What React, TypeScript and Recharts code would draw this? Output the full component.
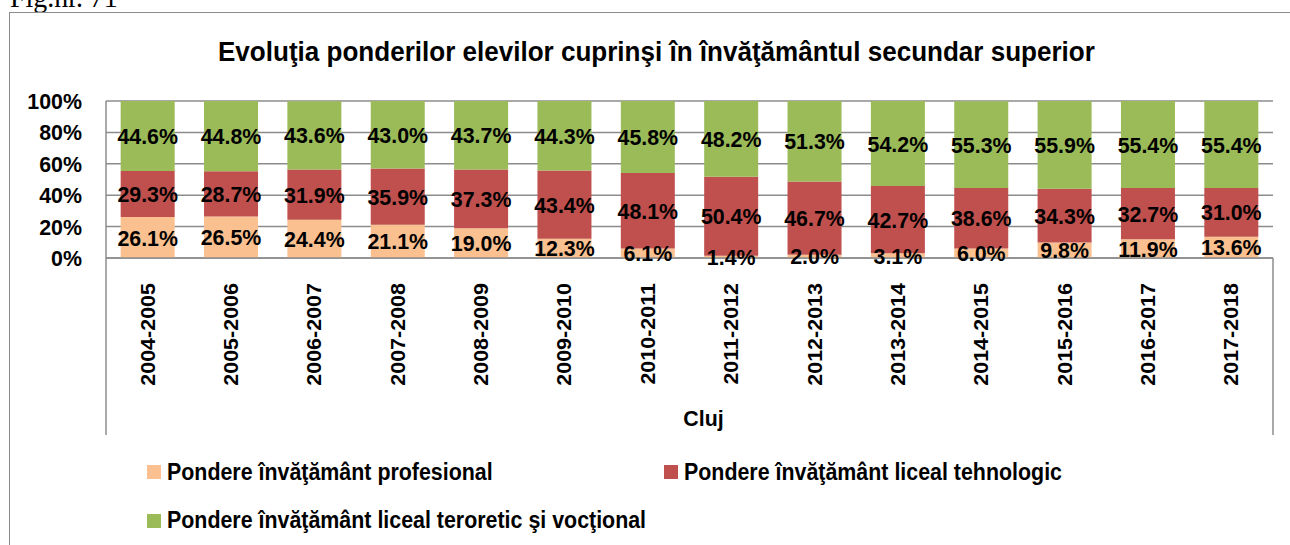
import React from 'react';
import { BarChart, Bar, XAxis, YAxis, CartesianGrid, Legend, LabelList } from 'recharts';

const years = [
    '2004-2005', '2005-2006', '2006-2007', '2007-2008', '2008-2009', '2009-2010', '2010-2011',
    '2011-2012', '2012-2013', '2013-2014', '2014-2015', '2015-2016', '2016-2017', '2017-2018'
];
const profesional = [26.1, 26.5, 24.4, 21.1, 19.0, 12.3, 6.1, 1.4, 2.0, 3.1, 6.0, 9.8, 11.9, 13.6];
const tehnologic = [29.3, 28.7, 31.9, 35.9, 37.3, 43.4, 48.1, 50.4, 46.7, 42.7, 38.6, 34.3, 32.7, 31.0];
const teoretic = [44.6, 44.8, 43.6, 43.0, 43.7, 44.3, 45.8, 48.2, 51.3, 54.2, 55.3, 55.9, 55.4, 55.4];
const yTicks = [0, 20, 40, 60, 80, 100];

const series = [
    { key: 'prof', name: 'Pondere învăţământ profesional', color: '#FAC090' },
    { key: 'tehn', name: 'Pondere învăţământ liceal tehnologic', color: '#C0504D' },
    { key: 'teor', name: 'Pondere învăţământ liceal teroretic şi vocţional', color: '#9BBB59' }
];

const data = years.map((y, i) => ({
    year: y,
    prof: profesional[i],
    tehn: tehnologic[i],
    teor: teoretic[i]
}));

const FONT = "'Liberation Sans', Arial, sans-serif";
const GRID = '#8c8c8c';
// the source picture is a bit squeezed sideways, so text gets narrowed too
const SQ = 0.93;

const YearTick = (props: any) => {
    const { x, y, payload } = props;
    return (
        <text
            transform={`translate(${x},${y + 17}) rotate(-90) scale(1,${SQ})`}
            textAnchor="end"
            dy="0.35em"
            fontFamily={FONT}
            fontWeight="bold"
            fontSize={21.5}
            fill="#000"
        >
            {payload.value}
        </text>
    );
};

const PctTick = (props: any) => {
    const { x, y, payload } = props;
    return (
        <text
            transform={`translate(${x},${y}) scale(${SQ},1)`}
            textAnchor="end"
            dy="0.35em"
            fontFamily={FONT}
            fontWeight="bold"
            fontSize={23}
            fill="#000"
        >
            {`${payload.value}%`}
        </text>
    );
};

const ValueLabel = (props: any) => {
    const { x, y, width, height, value } = props;
    const cx = Number(x) + Number(width) / 2;
    const cy = Number(y) + Number(height) / 2;
    return (
        <text
            transform={`translate(${cx},${cy}) scale(${SQ},1)`}
            textAnchor="middle"
            dy="0.35em"
            fontFamily={FONT}
            fontWeight="bold"
            fontSize={23}
            fill="#000"
        >
            {`${Number(value).toFixed(1)}%`}
        </text>
    );
};

const AxisBox = (props: any) => {
    const vb = props.viewBox || {};
    const { x = 0, y = 0, width = 0, height = 0 } = vb;
    return (
        <g>
            <line x1={x} y1={y} x2={x} y2={y + height} stroke={GRID} strokeWidth={1.5} />
            <line x1={x + width} y1={y} x2={x + width} y2={y + height} stroke={GRID} strokeWidth={1.5} />
            <text
                transform={`translate(${x + width / 2 + 14},${y + height - 17}) scale(${SQ},1)`}
                textAnchor="middle"
                dy="0.35em"
                fontFamily={FONT}
                fontWeight="bold"
                fontSize={23}
                fill="#000"
            >
                Cluj
            </text>
        </g>
    );
};

const LegendBox = () => (
    <div style={{ display: 'flex', flexWrap: 'wrap', paddingLeft: 147, paddingTop: 13, width: 1250, height: 110, boxSizing: 'border-box' }}>
        {series.map(s => (
            <div key={s.key} style={{ display: 'flex', alignItems: 'center', width: 517, height: 48 }}>
                <span style={{ width: 14, height: 14, background: s.color, marginRight: 6, display: 'inline-block', flex: 'none' }} />
                <span style={{ fontFamily: FONT, fontWeight: 'bold', fontSize: 23, color: '#000', whiteSpace: 'nowrap', display: 'inline-block', transform: `scaleX(${SQ})`, transformOrigin: 'left center' }}>{s.name}</span>
            </div>
        ))}
    </div>
);

export default function App() {
    return (
        <div style={{ position: 'absolute', left: 0, top: 0, width: 1290, height: 545, background: '#fff', overflow: 'hidden' }}>
            <div style={{ position: 'absolute', left: 10, top: -18, lineHeight: 1, fontFamily: "'Liberation Serif', serif", fontSize: 30, color: '#000', transform: `scaleX(${SQ})`, transformOrigin: 'left top', whiteSpace: 'nowrap' }}>
                Fig.nr. 71
            </div>
            <div style={{ position: 'absolute', left: 9, top: 12, width: 1400, height: 600, border: `1.5px solid ${GRID}` }} />
            <div style={{ position: 'absolute', left: 0, top: 38, width: 1312, textAlign: 'center', lineHeight: 1, fontFamily: FONT, fontWeight: 'bold', fontSize: 28, color: '#000' }}>
                <span style={{ display: 'inline-block', whiteSpace: 'nowrap', transform: `scaleX(${SQ})` }}>
                    Evoluţia ponderilor elevilor cuprinşi în învăţământul secundar superior
                </span>
            </div>
            <div style={{ position: 'absolute', left: 0, top: 0 }}>
                <BarChart width={1290} height={545} data={data} margin={{ top: 101, right: 17, bottom: 0, left: 0 }} barCategoryGap="17.6%">
                    <CartesianGrid vertical={false} stroke={GRID} strokeWidth={1.5} />
                    <YAxis
                        width={106}
                        domain={[0, 100]}
                        ticks={yTicks}
                        tickLine={false}
                        tickMargin={18}
                        axisLine={{ stroke: GRID, strokeWidth: 1.5 }}
                        tick={<PctTick />}
                    />
                    <XAxis
                        dataKey="year"
                        height={177}
                        interval={0}
                        tickLine={false}
                        axisLine={{ stroke: GRID, strokeWidth: 1.5 }}
                        tick={<YearTick />}
                        label={{ content: <AxisBox /> } as any}
                    />
                    <Legend verticalAlign="bottom" content={<LegendBox />} />
                    {series.map(s => (
                        <Bar key={s.key} dataKey={s.key} name={s.name} stackId="a" fill={s.color} isAnimationActive={false}>
                            <LabelList dataKey={s.key} content={<ValueLabel />} />
                        </Bar>
                    ))}
                </BarChart>
            </div>
        </div>
    );
}
